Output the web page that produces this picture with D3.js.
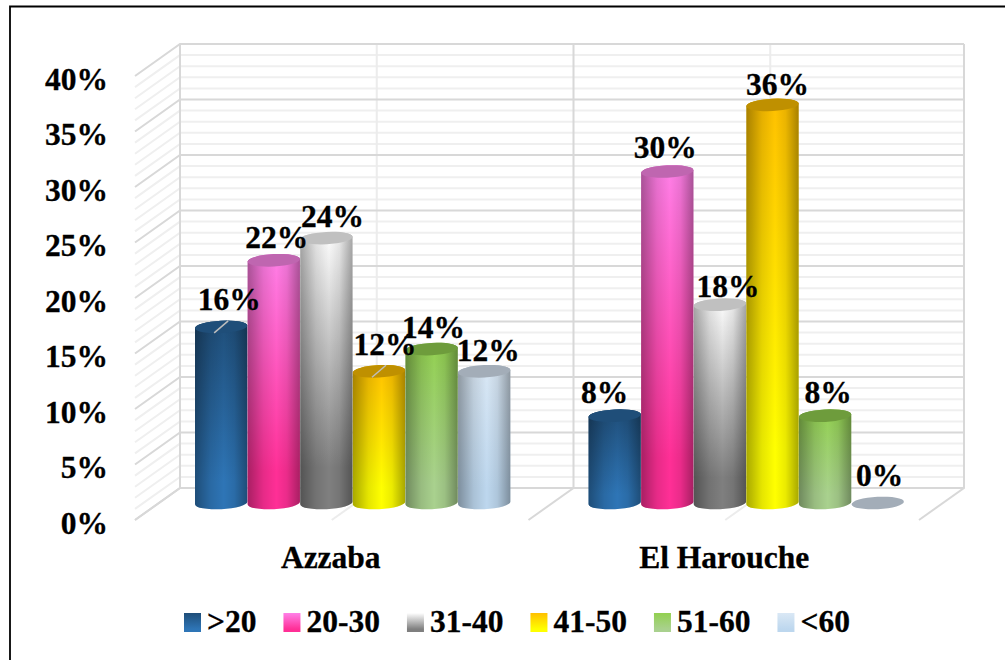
<!DOCTYPE html>
<html>
<head>
<meta charset="utf-8">
<script src="https://cdn.jsdelivr.net/npm/d3@7"></script>
<style>
  html, body { margin: 0; padding: 0; background: #fff; }
  text { font-family: "Liberation Serif", "Times New Roman", serif; font-weight: bold; fill: #000; stroke: #000; stroke-width: 0.3px; }
</style>
</head>
<body>
<div id="chart"></div>
<script>
const categories = ['Azzaba', 'El Harouche'];
const series = ['>20', '20-30', '31-40', '41-50', '51-60', '<60'];
const azzaba = [16, 22, 24, 12, 14, 12];
const elHarouche = [8, 30, 18, 36, 8, 0];
const yTicks = [0, 5, 10, 15, 20, 25, 30, 35, 40];
const minorTicks = d3.range(0, 41);

// hand placed labels in the original, nudges from the centre of each bar top
const labelNudgeX = [[8, 3, 6, 6, 2, 4], [-10, -2, 8, 5, 3, 2]];
const labelNudgeY = [[-15, -11, -10, -15, -10, -9], [-11, -12, -6, -8, -11, -17]];
const leaderLines = [[0, 0], [0, 3]];

const topColors = ['#1f4e79', '#ff80e8', '#ffffff', '#ffc000', '#92d050', '#dae8f5'];
const bottomColors = ['#2e75b6', '#ff2f96', '#7f7f7f', '#ffff00', '#a9d18e', '#bdd7ee'];
const capColors = ['#1f4e79', '#bf66b0', '#c0c0c0', '#bf9000', '#6e9c3c', '#a3adb8'];

const width = 1005;
const height = 660;
const depthX = -45;
const depthY = 32;
const rx = 26.2;
const ry = 6.2;
const tilt = -3;
const fontSize = 31.5;

const svg = d3.select('#chart').append('svg')
  .attr('width', width)
  .attr('height', height)
  .style('display', 'block');

const defs = svg.append('defs');

series.forEach((s, i) => {
  const g = defs.append('linearGradient')
    .attr('id', `body${i}`)
    .attr('x1', 0).attr('x2', 0).attr('y1', 0).attr('y2', 1);
  g.append('stop').attr('offset', '0%').attr('stop-color', topColors[i]);
  g.append('stop').attr('offset', '85%').attr('stop-color', bottomColors[i]);
  g.append('stop').attr('offset', '100%').attr('stop-color', bottomColors[i]);
});

const shade = defs.append('linearGradient').attr('id', 'shade');
[[0, 0.34], [0.3, 0.1], [0.55, 0], [0.75, 0.08], [1, 0.34]].forEach(([o, a]) => {
  shade.append('stop').attr('offset', o).attr('stop-color', '#000').attr('stop-opacity', a);
});

const y = d3.scaleLinear().domain([0, 40]).range([488, 44]);
const x0 = d3.scaleBand().domain(categories).range([180, 967]);
const x1 = d3.scaleBand().domain(series).range([0, x0.bandwidth()]).paddingOuter(0.74).align(0.48);

// frame
svg.append('path')
  .attr('d', `M10,${height + 2}V6.5H${width + 2}`)
  .attr('fill', 'none')
  .attr('stroke', '#000')
  .attr('stroke-width', 1.8);

const grid = svg.append('g').attr('fill', 'none');

// back wall and side wall rules, 1% steps
grid.selectAll('.minor')
  .data(minorTicks.filter((d) => d % 5 !== 0))
  .join('path')
  .attr('class', 'minor')
  .attr('d', (d) => `M${180 + depthX},${y(d) + depthY}L180,${y(d)}H964`)
  .attr('stroke', '#efefef')
  .attr('stroke-width', 2);

const walls = [...categories.map((c) => x0(c)), 964];
const halfWalls = categories.map((c) => x0(c) + x0.bandwidth() / 2);

grid.selectAll('.halfwall')
  .data(halfWalls)
  .join('path')
  .attr('class', 'halfwall')
  .attr('d', (d) => `M${d},${y(40)}V${y(0)}l${depthX},${depthY}`)
  .attr('stroke', '#ececec')
  .attr('stroke-width', 2);

grid.selectAll('.major')
  .data(yTicks)
  .join('path')
  .attr('class', 'major')
  .attr('d', (d) => `M${180 + depthX},${y(d) + depthY}L180,${y(d)}H964`)
  .attr('stroke', '#d8d8d8')
  .attr('stroke-width', 2);

grid.selectAll('.wall')
  .data(walls)
  .join('path')
  .attr('class', 'wall')
  .attr('d', (d) => `M${d},${y(40)}V${y(0)}l${depthX},${depthY}`)
  .attr('stroke', '#d8d8d8')
  .attr('stroke-width', 2);

// cylinders
function ellipseEdge(cx, cy, sign) {
  const t = tilt * Math.PI / 180;
  return [cx + sign * rx * Math.cos(t), cy + sign * rx * Math.sin(t)];
}

const rows = categories.map((c, k) => ({ c, k, values: k === 0 ? azzaba : elHarouche }));
const marks = svg.append('g');
const barBase = y(0) + depthY / 2 - 1;
const barHeight = (v) => y(0) - y(v);
// caps sit a touch under the nominal height once a bar has any height
const capY = (v) => barBase - barHeight(v) + (v > 0 ? 1.5 : 0);

rows.forEach((row) => {
  row.values.forEach((v, i) => {
    const cx = x0(row.c) + depthX / 2 + x1(series[i]) + x1.bandwidth() / 2;
    const topY = capY(v);
    const g = marks.append('g');
    if (v > 0) {
      const [lx0, ly0] = ellipseEdge(cx, barBase, -1);
      const [rx0, ry0] = ellipseEdge(cx, barBase, 1);
      const [lx1, ly1] = ellipseEdge(cx, topY, -1);
      const [rx1, ry1] = ellipseEdge(cx, topY, 1);
      const d = `M${lx1},${ly1}L${lx0},${ly0}A${rx},${ry} ${tilt} 0 0 ${rx0},${ry0}L${rx1},${ry1}A${rx},${ry} ${tilt} 0 0 ${lx1},${ly1}Z`;
      g.append('path').attr('d', d).attr('fill', `url(#body${i})`);
      g.append('path').attr('d', d).attr('fill', 'url(#shade)');
    }
    g.append('ellipse')
      .attr('cx', cx)
      .attr('cy', topY)
      .attr('rx', rx)
      .attr('ry', ry)
      .attr('transform', `rotate(${tilt} ${cx} ${topY})`)
      .attr('fill', capColors[i]);
  });
});

// leader lines that run from two labels into their caps
leaderLines.forEach(([k, i]) => {
  const c = categories[k];
  const v = rows[k].values[i];
  const cx = x0(c) + depthX / 2 + x1(series[i]) + x1.bandwidth() / 2;
  const topY = capY(v);
  marks.append('line')
    .attr('x1', cx - 7).attr('y1', topY + 6)
    .attr('x2', cx + 7).attr('y2', topY - 6)
    .attr('stroke', '#bdbdbd')
    .attr('stroke-width', 1.5);
});

// data labels
const labels = svg.append('g')
  .attr('font-size', fontSize)
  .attr('text-anchor', 'middle');

rows.forEach((row) => {
  row.values.forEach((v, i) => {
    const cx = x0(row.c) + depthX / 2 + x1(series[i]) + x1.bandwidth() / 2;
    labels.append('text')
      .attr('x', cx + labelNudgeX[row.k][i])
      .attr('y', barBase - barHeight(v) + labelNudgeY[row.k][i])
      .text(`${v}%`);
  });
});

// value axis sits on the front edge of the side wall
const yAxis = d3.axisLeft(y)
  .tickValues(yTicks)
  .tickFormat((d) => `${d}%`)
  .tickSize(0)
  .tickPadding(0);

svg.append('g')
  .attr('transform', `translate(108,${depthY + 3})`)
  .call(yAxis)
  .call((g) => g.select('.domain').remove())
  .call((g) => g.selectAll('text')
    .attr('font-family', null)
    .style('font-size', `${fontSize}px`));

// category axis
const xAxis = d3.axisBottom(x0).tickSize(0).tickPadding(0);

svg.append('g')
  .attr('transform', `translate(${depthX - 1},546)`)
  .call(xAxis)
  .call((g) => g.select('.domain').remove())
  .call((g) => g.selectAll('text')
    .attr('font-family', null)
    .style('font-size', `${fontSize}px`));

// legend
const legend = svg.append('g').attr('font-size', fontSize);
let legendX = 184;
series.forEach((s, i) => {
  legend.append('rect')
    .attr('x', legendX).attr('y', 613)
    .attr('width', 17).attr('height', 19)
    .attr('fill', `url(#body${i})`);
  const t = legend.append('text')
    .attr('x', legendX + 23)
    .attr('y', 632)
    .text(s);
  legendX += 23 + t.node().getComputedTextLength() + 27;
});
</script>
</body>
</html>
